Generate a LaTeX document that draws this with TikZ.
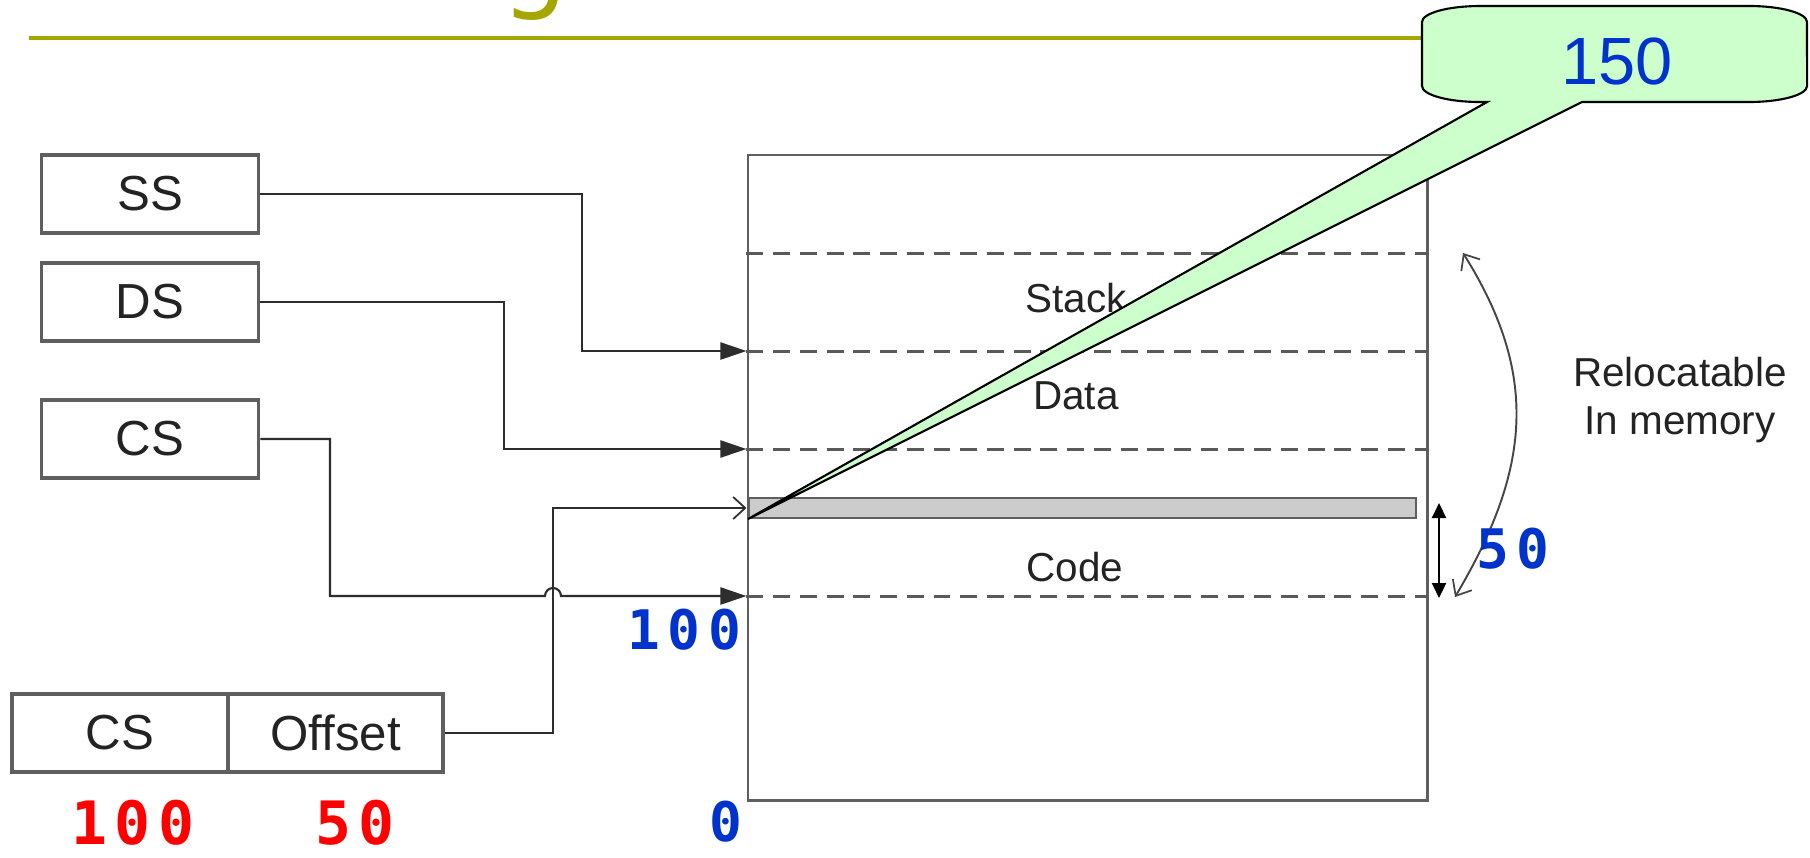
\documentclass[tikz,border=0pt]{standalone}
\usepackage{fontspec}
\setmainfont{Liberation Sans}
\newfontfamily\rednumfont[LetterSpace=13]{DejaVu Sans Mono}
\newfontfamily\bluenumfont[LetterSpace=14]{DejaVu Sans Mono}
\newfontfamily\titlefont{DejaVu Sans}
\usetikzlibrary{arrows.meta,calc}
\definecolor{olivet}{RGB}{166,166,0}
\definecolor{bluet}{RGB}{0,51,204}
\definecolor{redt}{RGB}{255,0,0}
\definecolor{callg}{RGB}{204,255,204}
\definecolor{txt}{RGB}{35,35,35}
\definecolor{boxg}{RGB}{95,95,95}
\definecolor{lineg}{RGB}{45,45,45}
\definecolor{dashg}{RGB}{90,90,90}
\definecolor{barg}{RGB}{204,204,204}
\definecolor{curvg}{RGB}{70,70,70}
\begin{document}
\begin{tikzpicture}[x=0.01cm,y=-0.01cm,
  regbox/.style={draw=boxg,line width=1pt,minimum width=2.17cm,minimum height=0.78cm,inner sep=0pt,
    text=txt,font=\fontsize{14}{16}\selectfont},
  membox/.style={draw=boxg,line width=0.75pt,minimum width=6.79cm,minimum height=6.45cm,inner sep=0pt},
  barbox/.style={draw=boxg,fill=barg,line width=0.7pt,minimum width=6.67cm,minimum height=0.2cm,inner sep=0pt},
  conn/.style={draw=lineg,line width=0.6pt},
  tri/.style={-{Triangle[length=2.6mm,width=1.7mm]}},
  barb/.style={-{Straight Barb[length=1.2mm,width=2.2mm,line width=0.5pt]}},
  dashline/.style={draw=dashg,line width=0.85pt,dash pattern=on 4.8pt off 2.8pt},
  lbl/.style={inner sep=0pt,text=txt,font=\fontsize{11.5}{13.9}\selectfont},
  rednum/.style={inner sep=0pt,text=redt,font=\rednumfont\bfseries\fontsize{17}{19}\selectfont},
  bluenum/.style={inner sep=0pt,text=bluet,font=\bluenumfont\bfseries\fontsize{15.5}{18}\selectfont},
  callshape/.style={draw=black,fill=callg,line width=0.6pt,line join=miter}
]
\useasboundingbox (0,0) rectangle (1810,857);
\fill[white] (0,0) rectangle (1810,857);

% title remnant and rule
\node[anchor=base,inner sep=0pt,text=olivet,font=\titlefont\fontsize{30}{32}\selectfont] (tg) at (535,-2) {g};
\coordinate (tl) at (29,38);
\coordinate (tr) at (1795,38);
\draw[olivet,line width=1.14pt] (tl) -- (tr);

% registers
\node[regbox] (SS) at (150,194) {SS};
\node[regbox] (DS) at (150,302) {DS};
\node[regbox] (CS) at (150,439) {CS};
\node[regbox,minimum width=2.16cm] (CSb) at (120,733) {CS};
\node[regbox,minimum width=2.15cm] (Off) at (335.5,733) {Offset};

% memory
\node[membox] (mem) at (1087.5,477.5) {};
\foreach \yy in {253,351,449,596}{
  \draw[dashline] (mem.west |- 0,\yy) -- (mem.east |- 0,\yy);
}
\node[barbox] (bar) at (1082.5,508) {};

\node[lbl] (stk) at (1076,298) {Stack};
\node[lbl] (dat) at (1076,396) {Data};
\node[lbl] (cod) at (1075,567) {Code};
\node[lbl,align=center] (rel) at (1680,400) {Relocatable\\In memory};

% connector targets and knees
\coordinate (mSS) at (mem.west |- 0,351);
\coordinate (mDS) at (mem.west |- 0,449);
\coordinate (mCS) at (mem.west |- 0,596);
\coordinate (mOff) at (mem.west |- 0,508);
\coordinate (kSS) at (582,351);
\coordinate (kDS) at (504,449);
\coordinate (kCS) at (330,596);
\coordinate (kOff) at (553,508);
\coordinate (jmp) at (545,596);

\draw[conn,tri] (SS.east) -| (kSS) -- (mSS);
\draw[conn,tri] (DS.east) -| (kDS) -- (mDS);
\draw[conn,barb] (Off.east) -| (kOff) -- (mOff);
\draw[conn,tri] (CS.east) -| (kCS) -- (jmp) arc[start angle=180,end angle=0,radius=0.08cm] -- (mCS);

% size arrow and relocation arrow
\coordinate (da1) at (1439,503);
\coordinate (da2) at (1439,598);
\draw[line width=0.6pt,{Triangle[length=1.5mm,width=1.4mm]}-{Triangle[length=1.5mm,width=1.4mm]}] (da1) -- (da2);
\coordinate (ca) at (1463,253);
\coordinate (cb) at (1455,597);
\draw[curvg,line width=0.55pt,{Straight Barb[length=1.3mm,width=2.2mm,line width=0.5pt]}-{Straight Barb[length=1.3mm,width=2.2mm,line width=0.5pt]}]
  (ca) .. controls (1540,376) and (1530,470) .. (cb);

% numbers
\node[rednum] (r100) at (133,823) {100};
\node[rednum] (r50) at (355,823) {50};
\node[bluenum] (b0) at (726,822) {0};
\node[bluenum] (b100) at (684,630) {100};
\node[bluenum] (b50) at (1513,549) {50};

% callout
\coordinate (tip) at (748,519);
\draw[callshape] (1487,102) -- (tip) -- (1582,102) -- (1749,102)
  arc[start angle=270,end angle=360,x radius=0.58cm,y radius=0.16cm] -- (1807,22)
  arc[start angle=0,end angle=90,x radius=0.58cm,y radius=0.16cm] -- (1480,6)
  arc[start angle=90,end angle=180,x radius=0.58cm,y radius=0.16cm] -- (1422,86)
  arc[start angle=180,end angle=270,x radius=0.58cm,y radius=0.16cm] -- cycle;
\node[inner sep=0pt,text=bluet,font=\fontsize{19}{21}\selectfont] (c150) at (1617,61) {150};
\end{tikzpicture}
\end{document}
